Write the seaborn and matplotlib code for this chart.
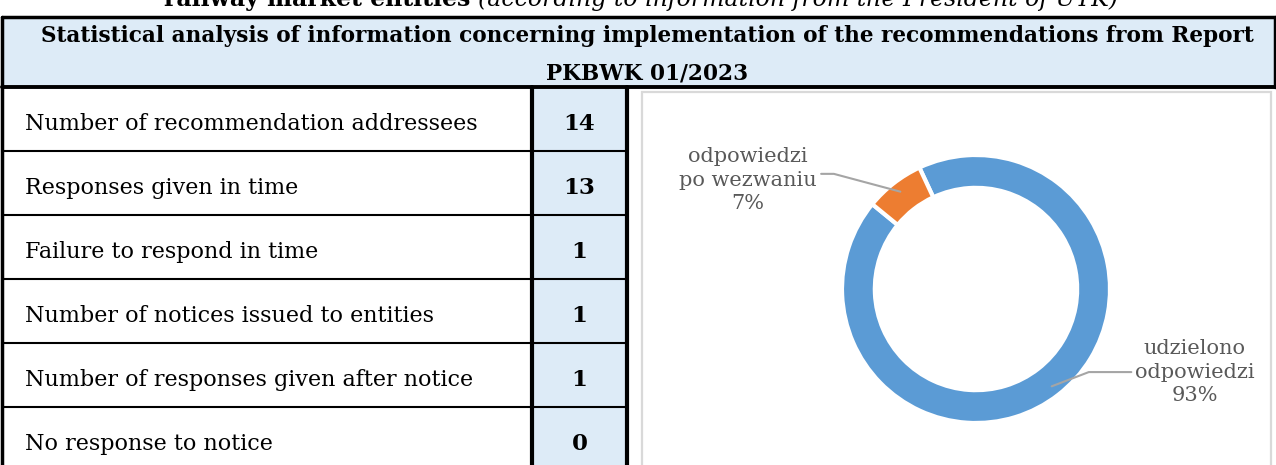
import numpy as np
import matplotlib
matplotlib.use("Agg")
import matplotlib.pyplot as plt
import seaborn as sns

# Daten
table_labels = [
    "Number of recommendation addressees",
    "Responses given in time",
    "Failure to respond in time",
    "Number of notices issued to entities",
    "Number of responses given after notice",
    "No response to notice",
]
table_values = [14, 13, 1, 1, 1, 0]

pie_labels = ["udzielono\nodpowiedzi", "odpowiedzi\npo wezwaniu"]
pie_counts = [13, 1]
pie_colors = ["#5B9BD5", "#ED7D31"]

header_text = ["Statistical analysis of information concerning implementation of the recommendations from Report",
               "PKBWK 01/2023"]

sns.set_style("white")
plt.rcParams["font.family"] = ["DejaVu Serif"]
plt.rcParams["text.color"] = "black"

fig = plt.figure(figsize=(12.76, 4.65), dpi=100)
ax = fig.add_axes([0, 0, 1, 1])
ax.set_xlim(0, 1276)
ax.set_ylim(465, 0)
ax.axis("off")

# Tabellen-Geometrie (Pixel)
left, right, top, head_bot = 2, 1275, 17, 87
row_h = 64
col1, col2 = 532, 627
fill = "#DDEBF7"

# Titel (oben abgeschnitten)
ax.text(470, 6, "railway market entities", ha="right", va="baseline",
        fontsize=17, fontweight="bold")
ax.text(478, 6, "(according to information from the President of UTK)", ha="left",
        va="baseline", fontsize=17, style="italic")

# Kopfzeile
ax.add_patch(plt.Rectangle((left, top), right - left, head_bot - top, facecolor=fill, edgecolor="none"))
ax.text(647, 42, header_text[0], ha="center", va="baseline", fontsize=15.6, fontweight="bold")
ax.text(647, 79, header_text[1], ha="center", va="baseline", fontsize=15.6, fontweight="bold")

# Wertespalte
n = len(table_labels)
bottom = head_bot + n * row_h
ax.add_patch(plt.Rectangle((col1, head_bot), col2 - col1, bottom - head_bot, facecolor=fill, edgecolor="none"))

for i, (lab, val) in enumerate(zip(table_labels, table_values)):
    y0 = head_bot + i * row_h
    ax.text(25, y0 + 43, lab, ha="left", va="baseline", fontsize=16)
    ax.text((col1 + col2) / 2, y0 + 43, str(val), ha="center", va="baseline", fontsize=16.5,
            fontweight="bold")
    if i > 0:
        ax.plot([left, col2], [y0, y0], color="black", lw=1.5, solid_capstyle="butt")

# Rahmenlinien
ax.plot([left, right], [top, top], color="black", lw=2.5)
ax.plot([left, right], [head_bot, head_bot], color="black", lw=2.8)
ax.plot([left, left], [top, bottom], color="black", lw=2.5)
ax.plot([right, right], [top, head_bot], color="black", lw=2.5)
ax.plot([col1, col1], [head_bot, bottom], color="black", lw=3)
ax.plot([col2, col2], [head_bot, bottom], color="black", lw=3)

# Diagramm-Rahmen
ax.add_patch(plt.Rectangle((642, 92), 1271 - 642, 400, facecolor="white",
                           edgecolor="#D9D9D9", lw=1.6))

# Ring-Diagramm
cx, cy, r = 976, 289, 134
pax = fig.add_axes([(cx - r) / 1276, (465 - cy - r) / 465, 2 * r / 1276, 2 * r / 465])
wedges, _ = pax.pie(pie_counts, colors=pie_colors, startangle=115, counterclock=False,
                    radius=1, wedgeprops=dict(width=0.245, edgecolor="white", linewidth=3))
pax.set_xlim(-1, 1)
pax.set_ylim(-1, 1)

total = sum(pie_counts)
label_pos = [(1.63, -0.62), (-1.70, 0.81)]
rel = [(0.0, 0.5), (1.03, 0.6)]
angB = [21, -15]
for w, lab, cnt, pos, rp, ab in zip(wedges, pie_labels, pie_counts, label_pos, rel, angB):
    mid = np.deg2rad((w.theta1 + w.theta2) / 2)
    xy = (0.92 * np.cos(mid), 0.92 * np.sin(mid))
    pax.annotate(f"{lab}\n{round(100 * cnt / total)}%", xy=xy, xytext=pos,
                 ha="center", va="center", fontsize=15, color="#595959", linespacing=1.3,
                 annotation_clip=False,
                 arrowprops=dict(arrowstyle="-", color="#A5A5A5", lw=1.5, relpos=rp,
                                 shrinkA=0, shrinkB=0,
                                 connectionstyle=f"angle,angleA=0,angleB={ab},rad=0"))

fig.savefig("out.png", dpi=100)
